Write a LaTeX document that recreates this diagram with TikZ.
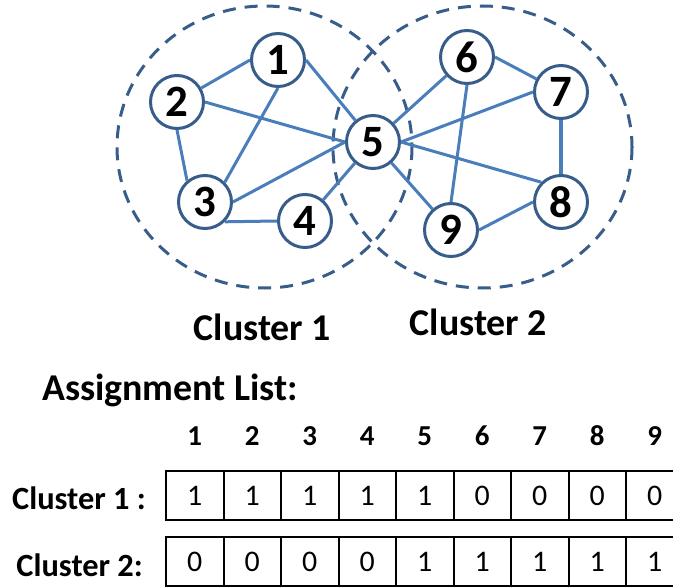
\documentclass[tikz,border=0pt]{standalone}
\usepackage{fontspec}
\setmainfont{Carlito}
\usepackage{xcolor}
\definecolor{rimblue}{HTML}{385D8A}
\definecolor{edgeblue}{HTML}{4A7EBB}
\tikzset{
  vertex/.style={draw=rimblue, circle, line width=3bp, fill=white, minimum size=53bp, inner sep=0pt, font=\fontsize{45}{45}\selectfont\bfseries},
  link/.style={draw=edgeblue, line width=3bp},
  cluster/.style={draw=rimblue, line width=3bp, dash pattern=on 13bp off 9bp},
  cell/.style={draw, line width=2bp, minimum width=57.5bp, minimum height=49bp, inner sep=0pt, font=\fontsize{30}{30}\selectfont},
  colnum/.style={inner sep=0pt, font=\fontsize{29}{29}\selectfont\bfseries},
  rowname/.style={inner sep=0pt, anchor=base east, font=\fontsize{32.5}{32.5}\selectfont\bfseries},
  title/.style={inner sep=0pt, anchor=base, font=\fontsize{38}{38}\selectfont\bfseries}
}
\begin{document}
\begin{tikzpicture}[x=1bp, y=-1bp]
        \useasboundingbox (0,0) rectangle (673,588);
        \clip (0,0) rectangle (673,588);
        % Clusters
        \draw[cluster] (264.5,147) ellipse [x radius=147.5, y radius=141];
        \draw[cluster] (482.5,147) ellipse [x radius=149.5, y radius=141];
        
        % Graph
        \node[vertex] (1) at (278,60) {1};
        \node[vertex] (2) at (177,102) {2};
        \node[vertex] (3) at (205,202) {3};
        \node[vertex] (4) at (305,221) {4};
        \node[vertex] (5) at (373,142) {5};
        \node[vertex] (6) at (467,57) {6};
        \node[vertex] (7) at (561,92) {7};
        \node[vertex] (8) at (561,202) {8};
        \node[vertex] (9) at (451,230) {9};
        
        \draw[link] (2) -- (1.west);
        \draw[link] (1.south) -- (3.45);
        \draw[link] (1.east) -- (5);
        \draw[link] (2.south) -- (3.130);
        \draw[link] (2.east) -- (5.west);
        \draw[link] (3.east) -- (5.west);
        \draw[link] (3.-45) -- (4.west);
        \draw[link] (4) -- (5);
        \draw[link] (5) -- (6);
        \draw[link] (5.east) -- (7.west);
        \draw[link] (5.east) -- (8.135);
        \draw[link] (5) -- (9);
        \draw[link] (6.east) -- (7);
        \draw[link] (6.south) -- (9.north);
        \draw[link, line width=4bp] (7.south) -- (8.north);
        \draw[link] (8.west) -- (9.east);
        
        \node[title] (c1label) at (262.5,340) {Cluster 1};
        \node[title] (c2label) at (478.5,335) {Cluster 2};
        
        % Assignment list
        \node[title, anchor=base west] (listlabel) at (42,400) {Assignment List:};
        \node[rowname] (row1) at (146,509) {Cluster 1 :};
        \node[rowname] (row2) at (143,576) {Cluster 2:};
        \foreach \a/\b [count=\i] in {1/0,1/0,1/0,1/0,1/1,0/1,0/1,0/1,0/1} {
            \node[colnum] (n\i) at ({194.75+57.5*(\i-1)},436) {\i};
            \node[cell] (a\i) at ({194.75+57.5*(\i-1)},495.5) {\a};
            \node[cell] (b\i) at ({194.75+57.5*(\i-1)},561.5) {\b};
        }
    \end{tikzpicture}
\end{document}
